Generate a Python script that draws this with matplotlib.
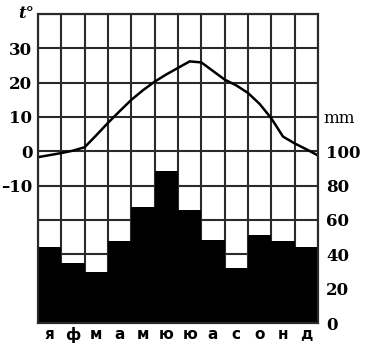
import numpy as np
import matplotlib.pyplot as plt

months = ["я", "ф", "м", "а", "м", "ю", "ю", "а", "с", "о", "н", "д"]
# precipitation, mm per month
precip = [44, 35, 29.5, 48, 67.5, 88.5, 66, 48.5, 32, 51, 47.5, 44.5]
# temperature read every half month, from the start of january to the end of december
temp_pos = np.arange(0, 12.01, 0.5)
temp = [-1.7, -1.1, -0.5, 0.2, 1.2, 4.7, 8.3, 11.7, 15.0, 17.8, 20.3, 22.4, 24.3,
        26.2, 25.9, 23.4, 20.9, 19.2, 17.0, 13.8, 9.6, 4.3, 2.3, 0.6, -1.2]

t_ticks = np.arange(-50, 41, 10)
t_shown = [-10, 0, 10, 20, 30]
mm_ticks = np.arange(0, 181, 20)
mm_shown = [0, 20, 40, 60, 80, 100]

fig = plt.figure(figsize=(3.71, 3.5), dpi=100)
ax = fig.add_axes([38 / 371, 1 - 323 / 350, 280 / 371, 309 / 350])
ax2 = ax.twinx()

grid_kw = dict(color="#2a2a2a", lw=1.5, zorder=0)

# grid + bars on the mm axis
ax2.set_ylim(0, 180)
for v in mm_ticks:
    ax2.axhline(v, **grid_kw)
for k in range(13):
    ax2.axvline(k, **grid_kw)
ax2.bar(np.arange(12) + 0.5, precip, width=1.0, color="black", zorder=2)
ax2.set_yticks(mm_ticks, [str(v) if v in mm_shown else "" for v in mm_ticks])
ax2.tick_params(axis="y", length=0, pad=6, labelsize=12)
for lab in ax2.get_yticklabels():
    lab.set_fontfamily("DejaVu Serif")
    lab.set_fontweight("bold")
ax2.text(1.02, 119 / 180, "mm", transform=ax2.transAxes, ha="left", va="center",
         fontsize=12, family="DejaVu Serif")

# temperature line on top
ax.set_zorder(ax2.get_zorder() + 1)
ax.patch.set_visible(False)
ax.plot(temp_pos, temp, color="black", lw=1.8, solid_capstyle="round")
ax.set_xlim(0, 12)
ax.set_ylim(-50, 40)
ax.set_yticks(t_ticks, ["\u201310" if v == -10 else (str(v) if v in t_shown else "") for v in t_ticks])
ax.tick_params(axis="y", length=0, pad=4, labelsize=12)
for lab in ax.get_yticklabels():
    lab.set_fontfamily("DejaVu Serif")
    lab.set_fontweight("bold")
ax.set_xticks(np.arange(12) + 0.5, months)
ax.tick_params(axis="x", length=0, pad=3, labelsize=11)
for lab in ax.get_xticklabels():
    lab.set_fontweight("bold")
ax.text(-0.012, 1.0, "t\u00b0", transform=ax.transAxes, ha="right", va="center",
        fontsize=12, family="DejaVu Serif", style="italic", fontweight="bold")

for a in (ax, ax2):
    for s in a.spines.values():
        s.set_linewidth(1.5)
        s.set_color("#2a2a2a")

fig.savefig("out.png", dpi=100)
